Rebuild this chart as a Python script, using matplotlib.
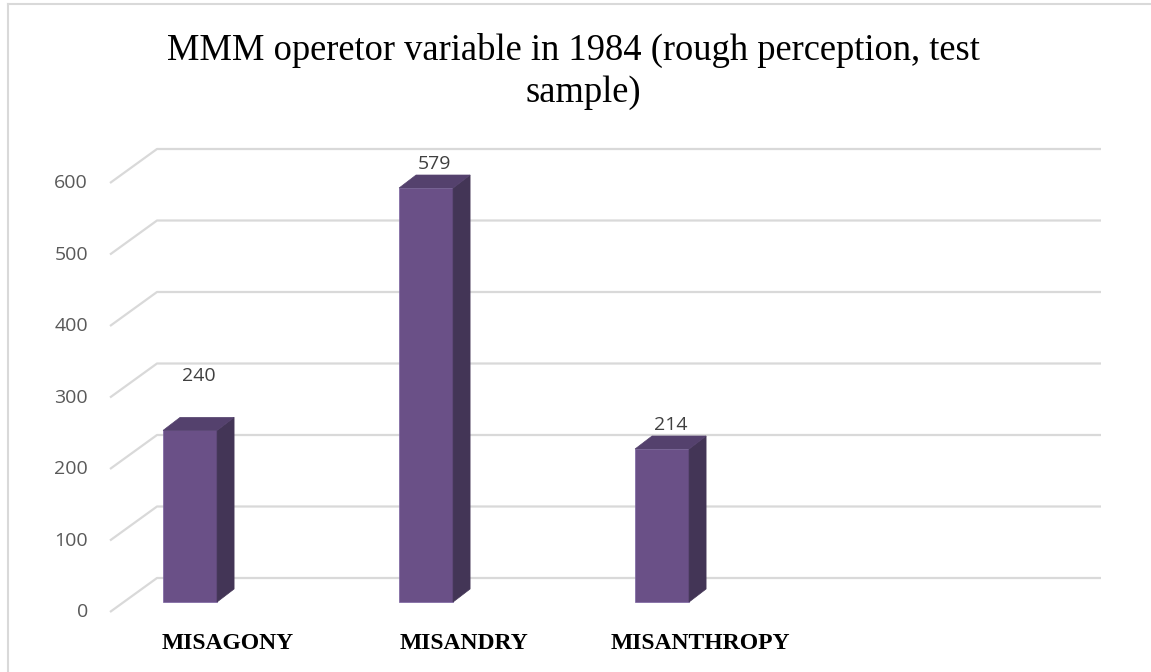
import matplotlib.pyplot as plt
from matplotlib.patches import Polygon
from matplotlib.lines import Line2D

# data
categories = ["MISAGONY", "MISANDRY", "MISANTHROPY"]
values = [240, 579, 214]
yticks = [0, 100, 200, 300, 400, 500, 600]
n_slots = 4  # excel leaves one empty slot on the right
title_l1 = "MMM operetor variable in 1984 (rough perception, test"
title_l2 = "sample)"

# colours
c_front = "#6a5087"
c_side = "#433556"
c_top = "#54416d"
c_grid = "#d9d9d9"

# pixel geometry of the fake 3d box (figure is 1151x672 px)
W, H = 1151, 672
x0_px, y0_px = 110, 612        # front-left corner of the floor
sx = 236.0                     # px per category slot
sy = 0.715                     # px per value unit
ddx = 47 / sx                  # depth offset of the back wall (data units)
ddy = 34 / sy

fig = plt.figure(figsize=(W / 100, H / 100), dpi=100)
ax = fig.add_axes([0, 0, 1, 1])
ax.set_xlim(-x0_px / sx, (W - x0_px) / sx)
ax.set_ylim((y0_px - H) / sy, y0_px / sy)
ax.axis("off")

# gridlines: slant on the floor side + back wall line
for v in yticks:
    ax.plot([0, ddx, n_slots + ddx], [v, v + ddy, v + ddy],
            color=c_grid, lw=1.6, solid_capstyle="butt", zorder=1)
    ax.text(-22 / sx, v, str(v), ha="right", va="center",
            fontsize=14, color="#595959", family="Open Sans")

# bars
bar_pos = 0.28                 # bar centre inside its slot
bar_w = 54 / sx
f_dx, f_dy = 14 / sx, 10 / sy  # front face depth shift
b_dx, b_dy = 17 / sx, 13 / sy  # bar thickness
label_lift = [32, 2, 2]        # px above the bar top for the data labels

for i, v in enumerate(values):
    xl = i + bar_pos - bar_w / 2 + f_dx
    xr = xl + bar_w
    yb = f_dy
    yt = v + f_dy
    ax.add_patch(Polygon([(xl, yb), (xr, yb), (xr, yt), (xl, yt)],
                         closed=True, fc=c_front, ec="#7a62a0", lw=0.5, zorder=3))
    ax.add_patch(Polygon([(xr, yb), (xr + b_dx, yb + b_dy), (xr + b_dx, yt + b_dy), (xr, yt)],
                         closed=True, fc=c_side, ec=c_side, lw=0.5, zorder=3))
    ax.add_patch(Polygon([(xl, yt), (xr, yt), (xr + b_dx, yt + b_dy), (xl + b_dx, yt + b_dy)],
                         closed=True, fc=c_top, ec=c_top, lw=0.5, zorder=3))
    ax.text((xl + xr + b_dx) / 2, yt + b_dy + label_lift[i] / sy, str(v),
            ha="center", va="bottom", fontsize=14, color="#404040",
            family="Open Sans", zorder=4)

# category labels (centred on the front slots)
for i, c in enumerate(categories):
    ax.text(i + 0.5, (y0_px - 649) / sy, c, ha="center", va="baseline",
            fontsize=17, fontweight="bold", family="Liberation Serif", color="black")

# title
fig.text(573 / W, 1 - 60 / H, title_l1, ha="center", va="baseline",
         fontsize=26.3, family="Liberation Serif", color="black")
fig.text(583 / W, 1 - 102 / H, title_l2, ha="center", va="baseline",
         fontsize=26.3, family="Liberation Serif", color="black")

# chart area border (only left and top visible)
fig.add_artist(Line2D([8 / W, 8 / W], [0, 1 - 4 / H], transform=fig.transFigure,
                      color=c_grid, lw=1.5))
fig.add_artist(Line2D([8 / W, 1], [1 - 4 / H, 1 - 4 / H], transform=fig.transFigure,
                      color=c_grid, lw=1.5))

fig.savefig("out.png", dpi=100)
